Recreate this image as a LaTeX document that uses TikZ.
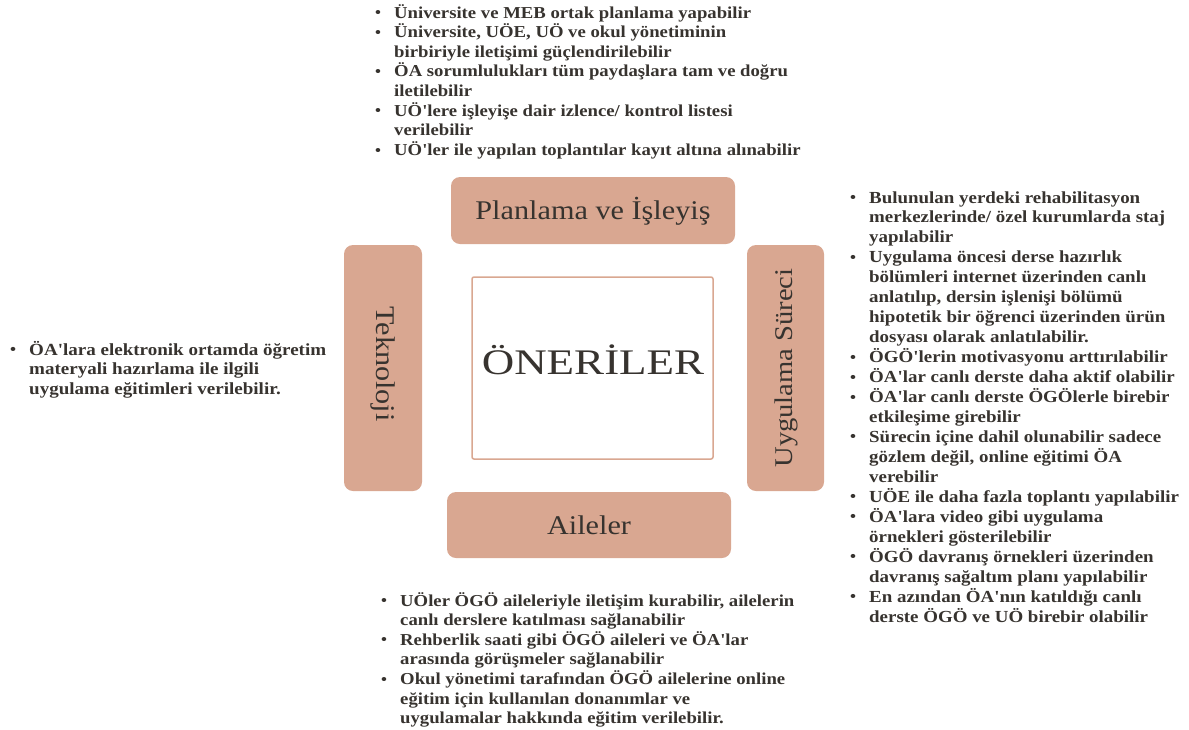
\documentclass[tikz,border=0pt]{standalone}
\usepackage{fontspec}
\usepackage{graphicx}
\setmainfont{Liberation Serif}[FakeStretch=1.12, Ligatures=TeXOff]
\newfontfamily\titlefont{Liberation Serif}[FakeStretch=1.25, Ligatures=TeXOff]
\definecolor{boxfill}{HTML}{D9A791}
\definecolor{ink}{HTML}{37332F}
% bulleted list set as a two-column tabular
\newcommand{\bul}{\raisebox{0.3pt}{\scalebox{0.9}{\textbullet}}}
\newcommand{\blist}[1]{\begin{tabular}[t]{@{}p{19pt}@{}l@{}}#1\end{tabular}}
\tikzset{
  catbox/.style={fill=boxfill, draw=none, rounded corners=9pt},
  catlabel/.style={text=ink, font=\fontsize{27}{30}\selectfont},
  listtext/.style={anchor=base west, inner sep=0pt, text=ink,
    font=\fontsize{16.7}{19.5}\selectfont\bfseries},
}
\begin{document}
\begin{tikzpicture}[x=1pt, y=-1pt]
\useasboundingbox (0,0) rectangle (1189,729);

% category boxes around the centre
\path[catbox] (451,177) rectangle (735,244);
\path[catbox] (344,245) rectangle (422,491);
\path[catbox] (747,245) rectangle (824,491);
\path[catbox] (447,492) rectangle (731,558);
\draw[boxfill, line width=1.5pt, rounded corners=2pt, fill=white] (472,277) rectangle (713,459);

\node[catlabel] (plan) at (593,211) {Planlama ve İşleyiş};
\node[catlabel, rotate=-90] (tek) at (383,364) {Teknoloji};
\node[catlabel, rotate=90, font=\fontsize{25.5}{30}\selectfont] (uyg) at (786,368) {Uygulama Süreci};
\node[catlabel] (aile) at (589,525) {Aileler};
\node[text=ink, font=\titlefont\fontsize{36}{40}\selectfont] (oneri) at (593,360) {ÖNERİLER};

% suggestion lists
\node[listtext] (ltop) at (375,18) {\blist{%
\bul & Üniversite ve MEB ortak planlama yapabilir\\
\bul & Üniversite, UÖE, UÖ ve okul yönetiminin\\
     & birbiriyle iletişimi güçlendirilebilir\\
\bul & ÖA sorumlulukları tüm paydaşlara tam ve doğru\\
     & iletilebilir\\
\bul & UÖ'lere işleyişe dair izlence/ kontrol listesi\\
     & verilebilir\\
\bul & UÖ'ler ile yapılan toplantılar kayıt altına alınabilir}};

\node[listtext, font=\fontsize{16.9}{19.9}\selectfont\bfseries] (lright) at (850,203) {\blist{%
\bul & Bulunulan yerdeki rehabilitasyon\\
     & merkezlerinde/ özel kurumlarda staj\\
     & yapılabilir\\
\bul & Uygulama öncesi derse hazırlık\\
     & bölümleri internet üzerinden canlı\\
     & anlatılıp, dersin işlenişi bölümü\\
     & hipotetik bir öğrenci üzerinden ürün\\
     & dosyası olarak anlatılabilir.\\
\bul & ÖGÖ'lerin motivasyonu arttırılabilir\\
\bul & ÖA'lar canlı derste daha aktif olabilir\\
\bul & ÖA'lar canlı derste ÖGÖlerle birebir\\
     & etkileşime girebilir\\
\bul & Sürecin içine dahil olunabilir sadece\\
     & gözlem değil, online eğitimi ÖA\\
     & verebilir\\
\bul & UÖE ile daha fazla toplantı yapılabilir\\
\bul & ÖA'lara video gibi uygulama\\
     & örnekleri gösterilebilir\\
\bul & ÖGÖ davranış örnekleri üzerinden\\
     & davranış sağaltım planı yapılabilir\\
\bul & En azından ÖA'nın katıldığı canlı\\
     & derste ÖGÖ ve UÖ birebir olabilir}};

\node[listtext, font=\fontsize{17}{19.5}\selectfont\bfseries] (lleft) at (10,355) {\blist{%
\bul & ÖA'lara elektronik ortamda öğretim\\
     & materyali hazırlama ile ilgili\\
     & uygulama eğitimleri verilebilir.}};

\node[listtext] (lbottom) at (381,606) {\blist{%
\bul & UÖler ÖGÖ aileleriyle iletişim kurabilir, ailelerin\\
     & canlı derslere katılması sağlanabilir\\
\bul & Rehberlik saati gibi ÖGÖ aileleri ve ÖA'lar\\
     & arasında görüşmeler sağlanabilir\\
\bul & Okul yönetimi tarafından ÖGÖ ailelerine online\\
     & eğitim için kullanılan donanımlar ve\\
     & uygulamalar hakkında eğitim verilebilir.}};
\end{tikzpicture}
\end{document}
